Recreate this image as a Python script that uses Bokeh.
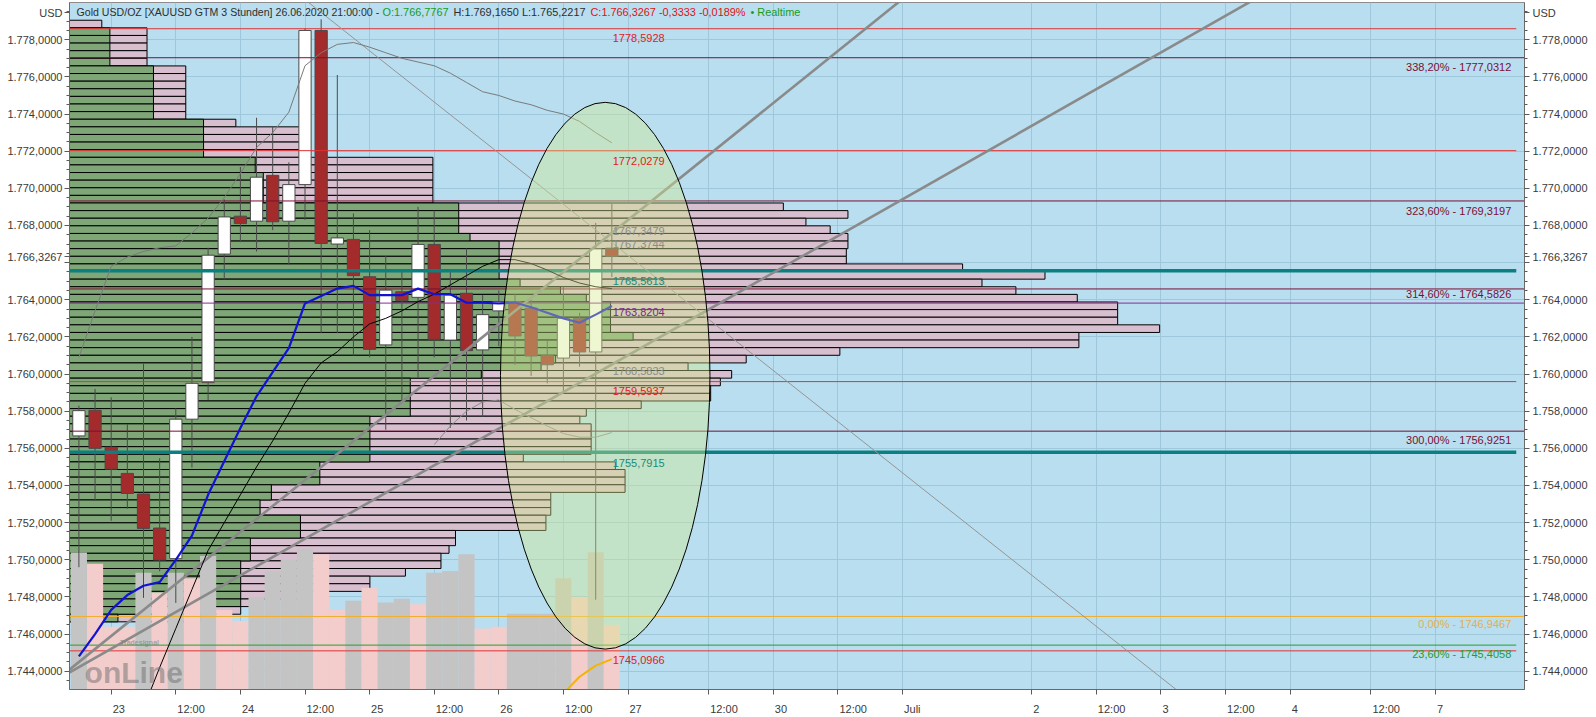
from bokeh.plotting import figure
from bokeh.models import FixedTicker, LinearAxis, Label, Range1d
from bokeh.core.properties import value
from bokeh.embed import file_html
from bokeh.resources import INLINE

FONT = "Liberation Sans"
NaN = float("nan")

# ---------------- data ----------------
candle_bar = list(range(-2, 32))          # 3-hour bars, 0 = 23.06. 00:00
candle_open = [1756.67, 1758.05, 1756.06, 1754.65, 1753.54, 1751.71, 1750.06, 1757.57, 1759.54, 1766.46,
               1768.5, 1768.23, 1770.7, 1768.23, 1770.2, 1778.5, 1767.0, 1767.25, 1765.24, 1761.57,
               1764.43, 1764.13, 1766.98, 1761.83, 1764.35, 1761.3, 1763.4, 1763.9, 1763.55, 1761.0,
               1760.86, 1763.0, 1761.19, 1766.7767]
candle_high = [1758.3, 1759.2, 1758.75, 1757.3, 1760.55, 1755.47, 1758.16, 1762.0, 1766.8, 1769.4,
               1771.15, 1773.8, 1773.3, 1771.4, 1778.6, 1779.1, 1776.1, 1768.65, 1767.75, 1766.35,
               1765.5, 1769.0, 1768.8, 1765.5, 1766.77, 1764.25, 1764.5, 1764.3, 1764.0, 1761.8,
               1764.7, 1763.3, 1768.14, 1769.165]
candle_low = [1749.6, 1753.2, 1752.1, 1752.75, 1747.95, 1749.38, 1747.68, 1754.97, 1758.6, 1765.1,
              1767.1, 1766.6, 1767.75, 1765.9, 1768.3, 1762.2, 1762.2, 1761.0, 1760.9, 1757.0,
              1758.6, 1759.8, 1760.9, 1757.1, 1757.5, 1757.7, 1761.5, 1760.5, 1759.9, 1759.5,
              1759.0, 1760.4, 1747.85, 1765.2217]
candle_close = [1758.03, 1756.0, 1754.88, 1753.57, 1751.69, 1749.99, 1757.57, 1759.5, 1766.4, 1768.46,
                1768.1, 1770.6, 1768.2, 1770.2, 1778.5, 1767.03, 1767.33, 1765.3, 1761.33, 1764.52,
                1763.95, 1766.98, 1761.87, 1764.25, 1761.26, 1763.2, 1763.9, 1762.05, 1760.97, 1760.5,
                1763.0, 1761.19, 1766.74, 1766.3267]

vol_top = [1750.39, 1749.79, 1746.4, 1746.4, 1749.3, 1748.24, 1749.3, 1749.0, 1750.2, 1747.3,
           1746.7, 1748.0, 1749.4, 1750.0, 1750.6, 1750.3, 1747.3, 1747.8, 1748.5, 1747.7,
           1747.9, 1747.6, 1749.3, 1749.4, 1750.3, 1746.3, 1746.4, 1747.1, 1747.1, 1747.1,
           1749.0, 1748.0, 1750.4, 1746.5]
vol_up = [1, 0, 0, 0, 1, 0, 1, 0, 1, 0, 0, 1, 1, 1, 1, 0, 0, 1, 0, 1,
          1, 0, 1, 1, 1, 0, 0, 1, 1, 1, 1, 0, 1, 0]

ma_blue = [1744.8, 1746.0, 1747.3, 1748.1, 1748.6, 1748.8, 1750.0, 1751.3, 1753.5, 1755.3,
           1757.1, 1758.8, 1760.1, 1761.4, 1763.8, 1764.2, 1764.6, 1764.75, 1764.25, 1764.25,
           1764.25, 1764.6, 1764.3, 1764.3, 1763.84, 1763.84, 1763.8, 1763.85, 1763.6, 1763.3,
           1763.0, 1762.76, 1763.2, 1763.66]
band_mid = [NaN, NaN, NaN, NaN, 1742.0, 1744.2, 1746.3, 1748.4, 1750.5, 1752.0,
            1753.5, 1755.0, 1756.4, 1757.9, 1759.5, 1760.6, 1761.2, 1762.0, 1762.7, 1763.0,
            1763.4, 1763.9, 1764.3, 1764.8, 1765.3, 1765.8, 1766.16, 1766.16, 1765.95, 1765.6,
            1765.2, 1764.9, 1764.7, 1764.6]
band_up = [1760.9, 1763.4, 1765.8, 1766.3, 1766.6, 1766.8, 1766.9, 1767.6, 1768.4, 1769.5,
           1770.8, 1772.2, 1773.0, 1774.1, 1776.6, 1777.3, 1777.75, 1777.85, 1777.6, 1777.3,
           1777.0, 1776.8, 1776.6, 1776.2, 1775.7, 1775.2, 1775.0, 1774.7, 1774.5, 1774.2,
           1774.0, 1773.6, 1773.0, 1772.45]
band_low = [NaN, NaN, NaN, NaN, NaN, NaN, NaN, NaN, NaN, NaN,
            NaN, NaN, NaN, NaN, NaN, NaN, NaN, NaN, NaN, NaN,
            NaN, NaN, 1756.2, 1757.2, 1758.0, 1758.5, 1758.6, 1758.1, 1757.65, 1757.2,
            1756.8, 1756.6, 1756.6, 1756.85]
orange_line = [NaN] * 29 + [1741.5, 1742.8, 1743.7, 1744.3, 1744.65]

# volume profile (top bin downwards)
profile_top = 1779.05
profile_step = 0.41
profile_total = [2.0, 4.8, 4.8, 4.8, 4.8, 4.8, 7.2, 7.2, 7.2, 7.2, 7.2, 7.2, 7.2, 10.3, 14.6, 14.6, 14.6, 14.6,
                 22.5, 22.5, 22.5, 22.5, 22.5, 22.5, 44.2, 48.2, 45.6, 47.1, 48.2, 48.2, 48.1, 48.1, 55.3,
                 60.4, 56.5, 58.6, 62.4, 64.9, 64.9, 64.9, 67.5, 62.5, 62.5, 47.7, 41.9, 38.3, 41.0, 40.3,
                 39.7, 39.7, 35.4, 32.0, 31.6, 32.3, 32.3, 32.3, 32.3, 28.1, 33.8, 34.4, 34.4, 34.4, 29.8,
                 29.8, 29.8, 29.5, 29.5, 23.9, 23.9, 23.5, 23.0, 23.0, 20.8, 18.6, 18.6, 14.3, 12.0, 10.6, 8.1]
profile_green = [0.0, 2.5, 2.5, 2.5, 2.5, 2.5, 5.2, 5.2, 5.2, 5.2, 5.2, 5.2, 5.2, 8.3, 8.3, 8.3, 8.3, 8.3,
                 11.5, 11.5, 12.0, 12.0, 12.0, 12.0, 24.1, 24.1, 24.1, 24.1, 24.8, 26.6, 26.6, 26.6, 26.6,
                 26.6, 27.9, 30.4, 32.0, 33.5, 33.5, 33.5, 33.5, 34.9, 30.4, 30.4, 30.1, 29.2, 25.5, 21.1,
                 21.1, 21.1, 21.1, 21.1, 18.6, 18.6, 18.6, 18.6, 18.6, 18.6, 15.5, 15.5, 15.5, 12.5, 12.5,
                 11.8, 11.8, 14.3, 14.3, 14.3, 11.2, 11.2, 11.2, 10.6, 10.6, 10.6, 10.6, 10.6, 10.6, 5.0, 3.0]

# horizontal levels
hline_values = [1778.5928, 1777.0312, 1772.0279, 1769.3197, 1765.5613, 1764.5826, 1763.8204,
                1759.5937, 1756.9251, 1755.7915, 1746.9467, 1745.4058, 1745.0966]
hline_kind = ["red", "fib", "red", "fib", "teal", "fib", "purple",
              "red", "fib", "teal", "orange", "green", "red"]

mid_label_values = [1778.5928, 1772.0279, 1767.3479, 1767.3744, 1765.5613, 1763.8204,
                    1760.5833, 1759.5937, 1755.7915, 1745.0966]
mid_label_text = ["1778,5928", "1772,0279", "1767,3479", "1767,3744", "1765,5613", "1763,8204",
                  "1760,5833", "1759,5937", "1755,7915", "1745,0966"]
mid_label_kind = ["red", "red", "gray", "gray", "teal", "purple", "gray", "red", "teal", "red"]

fib_values = [1777.0312, 1769.3197, 1764.5826, 1756.9251, 1746.9467, 1745.4058]
fib_text = ["338,20% - 1777,0312", "323,60% - 1769,3197", "314,60% - 1764,5826",
            "300,00% - 1756,9251", "0,00% - 1746,9467", "23,60% - 1745,4058"]
fib_kind = ["fib", "fib", "fib", "fib", "orange", "green"]

# trend lines: anchor bar, anchor price, slope per bar
trend_x = [-2.58, -2.58, 13.39]
trend_y = [1744.09, 1743.93, 1779.2]
trend_slope = [0.700, 0.494, -0.6886]
trend_kind = ["thick", "thick", "thin"]

# ellipse (centre bar, centre price, width in bars, height in USD)
ell_x, ell_y, ell_w, ell_h = 30.59, 1759.91, 12.97, 29.44

y_ticks = list(range(1744, 1779, 2))
x_tick_pos = [0, 4, 8, 12, 16, 20, 24, 28, 32, 37, 41, 45, 49, 57, 61, 65, 69, 73, 78, 82]
x_tick_labels = ["23", "12:00", "24", "12:00", "25", "12:00", "26", "12:00", "27", "12:00", "30",
                 "12:00", "Juli", "2", "12:00", "3", "12:00", "4", "12:00", "7"]

last_price = 1766.3267

# ---------------- styles ----------------
COL = {"red": "#e03434", "fib": "#7a1032", "teal": "#0a8080", "purple": "#8a2a96",
       "orange": "#efb030", "green": "#2a9e2a", "gray": "#8c8c8c"}
TXT = {"red": "#e02020", "fib": "#7a1032", "teal": "#1a8a7a", "purple": "#7a2a86",
       "orange": "#e0b050", "green": "#2a9a2a", "gray": "#8c8c8c"}

X0, X1 = -2.582, 87.51
Y0, Y1 = 1743.016, 1780.005
PX = 16.15  # screen px per bar (for small label offsets)

p = figure(width=1596, height=717, x_range=Range1d(X0, X1), y_range=Range1d(Y0, Y1),
           output_backend="svg", toolbar_location=None, tools="",
           background_fill_color="#b8def0", border_fill_color="white",
           min_border_left=69, min_border_right=72, min_border_top=2, min_border_bottom=27)
p.outline_line_color = "#8c8c8c"

# grid
p.xgrid.ticker = FixedTicker(ticks=x_tick_pos)
p.ygrid.ticker = FixedTicker(ticks=y_ticks)
p.xgrid.grid_line_color = "#9fc7dc"
p.ygrid.grid_line_color = "#9fc7dc"

def de_fmt(v):
    s = f"{v:,.4f}"
    return s.replace(",", "X").replace(".", ",").replace("X", ".")

usd_tick = 1779.45
y_major = y_ticks + [last_price, usd_tick]
y_over = {t: de_fmt(t) for t in y_ticks}
y_over[1766] = ""
y_over[last_price] = de_fmt(last_price)
y_over[usd_tick] = "USD"
y_minor = [t + 0.5 * k for t in range(1742, 1781, 2) for k in (1, 2, 3)]

def style_axis(ax):
    ax.axis_line_color = "#6a6a6a"
    ax.major_tick_line_color = "#5a5a5a"
    ax.minor_tick_line_color = "#5a5a5a"
    ax.major_tick_in = 0
    ax.major_tick_out = 5
    ax.minor_tick_in = 0
    ax.minor_tick_out = 3
    ax.major_label_text_font = FONT
    ax.major_label_text_font_size = "11px"
    ax.major_label_text_color = "#3a3a3a"

ly = p.yaxis[0]
ly.ticker = FixedTicker(ticks=y_major, minor_ticks=y_minor)
ly.major_label_overrides = y_over
style_axis(ly)
ly.major_label_standoff = 2

ry = LinearAxis(ticker=FixedTicker(ticks=y_major, minor_ticks=y_minor), major_label_overrides=y_over)
style_axis(ry)
ry.major_label_standoff = 3
p.add_layout(ry, "right")

# x axis: labels start just right of their tick (labels placed as major ticks, marks as minor ticks)
CW = {"J": 5.5, "u": 6.12, "l": 2.44, "i": 2.44, ":": 3.06}
def tw(s):
    return sum(CW.get(ch, 6.12) for ch in s)
x_lab_pos = [t + (tw(s) / 2 + 1.5) / PX for t, s in zip(x_tick_pos, x_tick_labels)]
xa = p.xaxis[0]
xa.ticker = FixedTicker(ticks=x_lab_pos, minor_ticks=x_tick_pos)
xa.major_label_overrides = {t: s for t, s in zip(x_lab_pos, x_tick_labels)}
style_axis(xa)
xa.major_tick_line_color = None
xa.minor_tick_out = 5
xa.major_label_standoff = 8

# volume profile
n = len(profile_total)
b_top = [profile_top - i * profile_step for i in range(n)]
b_bot = [t - profile_step for t in b_top]
p.quad(left=X0, right=[X0 + v for v in profile_total], top=b_top, bottom=b_bot,
       fill_color="#d8bfcf", line_color="black", line_width=1)
gi = [i for i in range(n) if profile_green[i] > 0]
p.quad(left=X0, right=[X0 + profile_green[i] for i in gi], top=[b_top[i] for i in gi],
       bottom=[b_bot[i] for i in gi], fill_color="#7ea677", line_color="black", line_width=1)

# volume bars
p.quad(left=[b - 0.5 for b in candle_bar], right=[b + 0.5 for b in candle_bar],
       bottom=Y0, top=vol_top,
       fill_color=["#c4c4c4" if u else "#f3cccc" for u in vol_up], line_color=None)

# candles
p.segment(x0=candle_bar, y0=candle_low, x1=candle_bar, y1=candle_high, line_color="#4a4a4a", line_width=1)
p.vbar(x=candle_bar, width=0.76,
       top=[max(o, c) for o, c in zip(candle_open, candle_close)],
       bottom=[min(o, c) for o, c in zip(candle_open, candle_close)],
       fill_color=["#ffffff" if c >= o else "#a32b2b" for o, c in zip(candle_open, candle_close)],
       line_color="#4a4a4a", line_width=1)

# horizontal levels
short = {"red", "teal", "green"}
p.segment(x0=X0, x1=[87.0 if k in short else X1 for k in hline_kind],
          y0=hline_values, y1=hline_values,
          line_color=[COL[k] for k in hline_kind],
          line_width=[3.5 if k == "teal" else 1 for k in hline_kind])

# trend lines
tx0, tx1 = -6.0, 95.0
p.segment(x0=tx0, x1=tx1,
          y0=[y + s * (tx0 - x) for x, y, s in zip(trend_x, trend_y, trend_slope)],
          y1=[y + s * (tx1 - x) for x, y, s in zip(trend_x, trend_y, trend_slope)],
          line_color=["#8a8a8a" if k == "thick" else "#959595" for k in trend_kind],
          line_width=[2.6 if k == "thick" else 1 for k in trend_kind])

# indicators
p.line(candle_bar, band_up, line_color="#7a7a7a", line_width=1)
p.line(candle_bar, band_low, line_color="#8a8a8a", line_width=1)
p.line(candle_bar, band_mid, line_color="black", line_width=1)
p.line(candle_bar, orange_line, line_color="#f5b400", line_width=2)
p.line(candle_bar, ma_blue, line_color="#1212d4", line_width=2.2)

# ellipse
p.ellipse(x=[ell_x], y=[ell_y], width=[ell_w], height=[ell_h],
          fill_color="#d4ea8c", fill_alpha=0.4, line_color="black", line_width=1)

# level labels
mid_off = [9, 10, -7, 7, 10, 9, 8, 9, 11, 9]
p.text(x=31.05, y=mid_label_values, text=mid_label_text, y_offset=mid_off,
       text_color=[TXT[k] for k in mid_label_kind], text_font=value(FONT),
       text_font_size="11px", text_baseline="middle", text_align="left")
fib_off = [9, 10, 5, 9, 8, 9]
p.text(x=86.69, y=fib_values, text=fib_text, y_offset=fib_off,
       text_color=[TXT[k] for k in fib_kind], text_font=value(FONT),
       text_font_size="11px", text_baseline="middle", text_align="right")

# header
hy = 1779.52
header = [("Gold USD/OZ [XAUUSD GTM 3 Stunden] 26.06.2020 21:00:00 -", 76, "#2e2e2e", "10.6px"),
          ("O:1.766,7767", 382, "#1a9a1a", "10.9px"),
          ("H:1.769,1650 L:1.765,2217", 453, "#2e2e2e", "10.9px"),
          ("C:1.766,3267 -0,3333 -0,0189%", 590, "#e01010", "10.9px"),
          ("\u2022 Realtime", 750, "#1a9a1a", "10.9px")]
for txt, px, col, fs in header:
    p.add_layout(Label(x=(px - 110.7) / PX, y=hy, text=txt, text_color=col,
                       text_font=FONT, text_font_size=fs, text_baseline="middle"))

# logo
p.add_layout(Label(x=-1.65, y=1743.02, text="onLine", text_font=FONT, text_font_size="30px",
                   text_font_style="bold", text_color="#6e6e6e", text_alpha=0.5,
                   text_baseline="bottom"))
p.add_layout(Label(x=0.55, y=1745.35, text="Tradesignal", text_font=FONT, text_font_size="7px",
                   text_font_style="bold", text_color="#7a7a7a", text_alpha=0.6))

open("out.html", "w").write(file_html(p, INLINE))
